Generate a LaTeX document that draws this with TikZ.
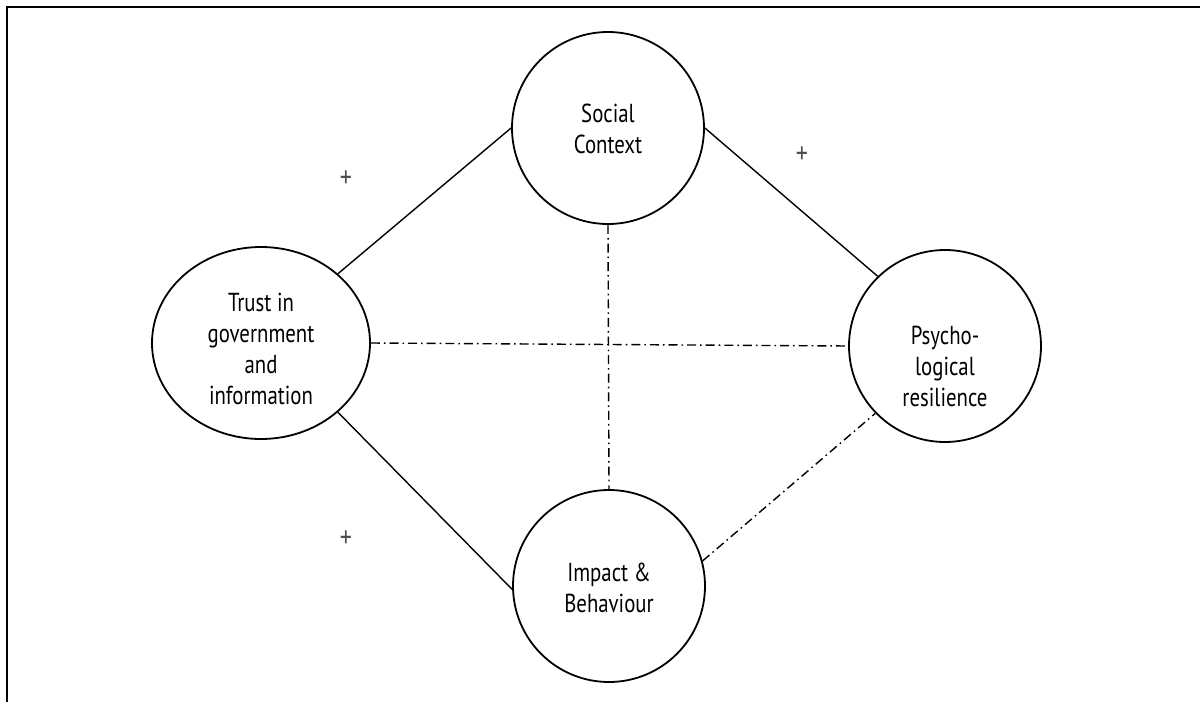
\documentclass[tikz,border=0pt]{standalone}
\usepackage{fontspec}
\setmainfont[FakeStretch=0.8]{PT Sans}
\usetikzlibrary{shapes.geometric}
\tikzset{
  bubble/.style={draw, line width=0.9pt, circle, minimum size=96pt, inner sep=0pt},
  oval/.style={draw, line width=0.9pt, ellipse, minimum width=109pt, minimum height=96pt, inner sep=0pt},
  lbl/.style={align=center, font=\fontsize{13}{15.5}\selectfont, inner sep=0pt},
  solidlink/.style={line width=0.7pt},
  dotlink/.style={line width=0.7pt, dash pattern=on 4.5pt off 2pt on 0.8pt off 2pt},
  plus/.style={text=black!70, font=\fontsize{15}{15}\selectfont, inner sep=0pt}
}
\begin{document}
\begin{tikzpicture}[x=0.5pt, y=-0.5pt]
\useasboundingbox (0,0) rectangle (1200,702);
\draw[line width=1pt] (7,702) -- (7,7) -- (1200,7);

\node[bubble] (soc) at (608,128) {};
\node[oval] (tru) at (261,343) {};
\node[bubble] (psy) at (945,346) {};
\node[bubble] (imp) at (609,586) {};

\node[lbl] (socl) at (608,129) {Social\\Context};
\node[lbl] (trul) at (261,349) {Trust in\\government\\and\\information};
\node[lbl] (psyl) at (945,366) {Psycho-\\logical\\resilience};
\node[lbl] (impl) at (609,588) {Impact \&\\Behaviour};

\draw[solidlink] (soc.west) -- (tru.42);
\draw[solidlink] (soc.east) -- (psy.134);
\draw[solidlink] (tru.-42) -- (imp.182);
\draw[dotlink] (imp.15) -- (psy.224);
\draw[dotlink] (tru.east) -- (psy.west);
\draw[dotlink] (soc.south) -- (imp.north);

\node[plus] (p1) at (346,179) {+};
\node[plus] (p2) at (802,155) {+};
\node[plus] (p3) at (346,539) {+};
\end{tikzpicture}
\end{document}
